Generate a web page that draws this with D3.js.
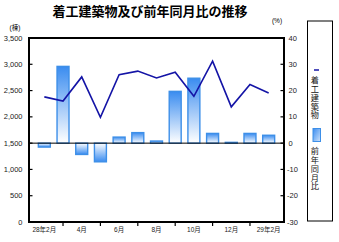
<!DOCTYPE html>
<html><head><meta charset="utf-8">
<script src="https://cdn.jsdelivr.net/npm/d3@7"></script>
<style>body{margin:0;background:#fff}svg{display:block}</style>
</head><body>
<svg id="c" width="339" height="242"></svg>
<script>
const categories = ["28年2月","3月","4月","5月","6月","7月","8月","9月","10月","11月","12月","29年1月","29年2月"];
const xTickLabels = ["28年2月","4月","6月","8月","10月","12月","29年2月"];
const buildings = [2380,2300,2760,1990,2800,2870,2740,2850,2390,3060,2190,2615,2455];
const yoyRate = [-1.5,29.2,-4.3,-7.1,2.3,4.0,0.8,19.7,24.7,3.7,0.3,3.7,3.0];
const leftTicks = [0,500,1000,1500,2000,2500,3000,3500];
const rightTicks = [-30,-20,-10,0,10,20,30,40];
const seriesNames = ["着工建築物","前年同月比"];

const FONT = "'Liberation Sans','Noto Sans CJK JP',sans-serif";
const svg = d3.select("#c");
const L = 29, R = 284, T = 38, B = 222;

const x = d3.scalePoint().domain(d3.range(categories.length)).range([L, R]).padding(0.82);
const yL = d3.scaleLinear().domain([0, 3500]).range([B, T]);
const yR = d3.scaleLinear().domain([-30, 40]).range([B, T]);

const defs = svg.append("defs");
const gp = defs.append("linearGradient").attr("id","gpos").attr("x1",0).attr("y1",0).attr("x2",0).attr("y2",1);
gp.append("stop").attr("offset","0%").attr("stop-color","#3a8cf0");
gp.append("stop").attr("offset","100%").attr("stop-color","#ffffff");
const gn = defs.append("linearGradient").attr("id","gneg").attr("x1",0).attr("y1",0).attr("x2",0).attr("y2",1);
gn.append("stop").attr("offset","0%").attr("stop-color","#ffffff");
gn.append("stop").attr("offset","100%").attr("stop-color","#3a8cf0");
const gl = defs.append("linearGradient").attr("id","gleg").attr("x1",0).attr("y1",0).attr("x2",1).attr("y2",1);
gl.append("stop").attr("offset","0%").attr("stop-color","#3a8cf0");
gl.append("stop").attr("offset","100%").attr("stop-color","#cfe3fb");

// title
svg.append("text").attr("x", 150).attr("y", 16).attr("text-anchor","middle")
  .attr("font-family","'Noto Sans CJK JP',sans-serif").attr("font-weight","bold").attr("font-size",13)
  .attr("fill","#000").text("着工建築物及び前年同月比の推移");

// unit labels
svg.append("text").attr("x",15).attr("y",30).attr("text-anchor","middle").attr("font-family",FONT).attr("font-size",6.5).text("(棟)");
svg.append("text").attr("x",277).attr("y",23).attr("text-anchor","middle").attr("font-family",FONT).attr("font-size",6.5).text("(%)");

// bars
const bw = x.step() * 0.64;
svg.append("g").selectAll("rect").data(yoyRate).join("rect")
  .attr("x", (d,i) => x(i) - bw/2)
  .attr("y", d => yR(Math.max(0,d)))
  .attr("width", bw)
  .attr("height", d => Math.max(0.8, Math.abs(yR(d) - yR(0))))
  .attr("fill", d => d >= 0 ? "url(#gpos)" : "url(#gneg)")
  .attr("stroke", "#3d8fe8").attr("stroke-width", 1.4);

// zero baseline
svg.append("line").attr("x1",L).attr("x2",R).attr("y1",yR(0)).attr("y2",yR(0)).attr("stroke","#000").attr("stroke-width",1);

// line
svg.append("path").datum(buildings)
  .attr("d", d3.line().x((d,i)=>x(i)).y(d=>yL(d)))
  .attr("fill","none").attr("stroke","#1414a6").attr("stroke-width",1.6);

// frame
svg.append("rect").attr("x",L).attr("y",T).attr("width",R-L).attr("height",B-T)
  .attr("fill","none").attr("stroke","#000").attr("stroke-width",2);

// left axis
const gL = svg.append("g");
gL.selectAll("line").data(leftTicks).join("line")
  .attr("x1",L).attr("x2",L+3.5).attr("y1",d=>yL(d)).attr("y2",d=>yL(d)).attr("stroke","#000").attr("stroke-width",1.2);
gL.selectAll("text").data(leftTicks).join("text")
  .attr("x",22.5).attr("y",d=>yL(d)+2.5).attr("text-anchor","end")
  .attr("font-family",FONT).attr("font-size",7.5).attr("fill","#222").text(d=>d3.format(",")(d));

// right axis
const gR = svg.append("g");
gR.selectAll("line").data(rightTicks).join("line")
  .attr("x1",R-3.5).attr("x2",R).attr("y1",d=>yR(d)).attr("y2",d=>yR(d)).attr("stroke","#000").attr("stroke-width",1.2);
gR.selectAll("text").data(rightTicks).join("text")
  .attr("x",d => d<0 ? 287 : 288.5).attr("y",d=>yR(d)+2.5).attr("text-anchor","start")
  .attr("font-family",FONT).attr("font-size",7.5).attr("fill","#222").text(d=>d);

// bottom axis ticks (between labels) and labels
const gB = svg.append("g");
gB.selectAll("line").data(d3.range(1, categories.length, 2)).join("line")
  .attr("x1",i=>x(i)).attr("x2",i=>x(i)).attr("y1",B).attr("y2",B+4).attr("stroke","#000").attr("stroke-width",1.2);
gB.selectAll("text").data(xTickLabels).join("text")
  .attr("x",(d,k)=>x(k*2)).attr("y",232).attr("text-anchor","middle")
  .attr("font-family",FONT).attr("font-size",6.5).attr("fill","#222").text(d=>d);

// legend
const lg = svg.append("g");
lg.append("rect").attr("x",307.5).attr("y",21).attr("width",25).attr("height",200)
  .attr("fill","#fff").attr("stroke","#000").attr("stroke-width",1);
lg.append("line").attr("x1",314).attr("x2",319).attr("y1",70).attr("y2",70).attr("stroke","#1414a6").attr("stroke-width",1.5);
lg.append("text").attr("x",314.8).attr("y",76).attr("writing-mode","vertical-rl").attr("letter-spacing",0.6)
  .attr("font-family","'Noto Sans CJK JP',sans-serif").attr("font-size",8.2).attr("fill","#111").text(seriesNames[0]);
lg.append("rect").attr("x",313).attr("y",128.5).attr("width",7.5).attr("height",13)
  .attr("fill","url(#gleg)").attr("stroke","#3d8fe8").attr("stroke-width",1);
lg.append("text").attr("x",314.8).attr("y",147).attr("writing-mode","vertical-rl").attr("letter-spacing",0.6)
  .attr("font-family","'Noto Sans CJK JP',sans-serif").attr("font-size",8.2).attr("fill","#111").text(seriesNames[1]);
</script>
</body></html>
